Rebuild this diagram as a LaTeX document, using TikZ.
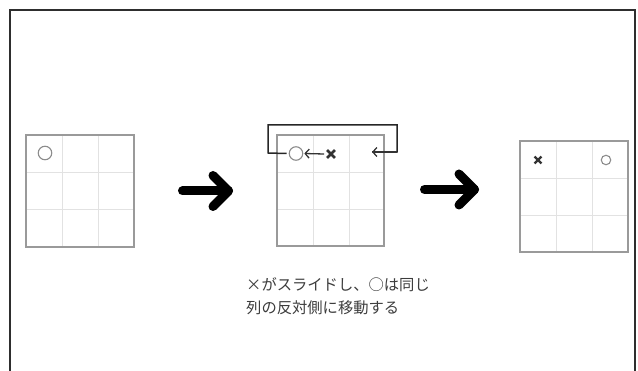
\documentclass[tikz,border=0pt]{standalone}
\usepackage{fontspec}
\newfontfamily\cjk{Noto Sans CJK JP}
\usetikzlibrary{arrows.meta}
\definecolor{framec}{HTML}{2E2E2E}
\definecolor{gridout}{HTML}{9A9A9A}
\definecolor{gridin}{HTML}{E2E2E2}
\definecolor{markc}{HTML}{333333}
\definecolor{circc}{HTML}{8C8C8C}
\definecolor{textc}{HTML}{3C3C3C}
\tikzset{
  frameline/.style={draw=framec, line width=1.8pt},
  outerbox/.style={draw=gridout, line width=1.4pt},
  innerline/.style={draw=gridin, line width=0.9pt},
  circmark/.style={circle, draw=circc, line width=1.1pt, inner sep=0pt},
  crossbox/.style={inner sep=0pt, minimum size=7.5pt},
  crossline/.style={draw=markc, line width=2.6pt},
  smallarrow/.style={draw=black!80, line width=1.3pt, -{Straight Barb[length=4pt,width=9pt,line width=1.3pt]}},
  bracket/.style={draw=black!85, line width=1.5pt},
  bigarrow/.style={draw=black, line width=9pt, line cap=round, line join=round},
  txt/.style={font=\cjk\fontsize{15.3pt}{18pt}\selectfont, text=textc, inner sep=0pt, anchor=west}
}
\begin{document}
\begin{tikzpicture}[x=1pt,y=-1pt]
\useasboundingbox (0,0) rectangle (638,371);
% outer frame
\draw[frameline] (10,373) -- (10,10) -- (635,10) -- (635,373);

% grid 1
\draw[innerline] (62,135) -- (62,247) (98,135) -- (98,247) (26,172) -- (134,172) (26,209) -- (134,209);
\draw[outerbox] (26,135) rectangle (134,247);
\node[circmark, minimum size=13.5pt] (o1) at (45,153) {};

% grid 2
\draw[innerline] (313,135) -- (313,246) (349,135) -- (349,246) (277,172) -- (384,172) (277,209) -- (384,209);
\draw[outerbox] (277,135) rectangle (384,246);
\node[circmark, minimum size=13.5pt] (o2) at (296,153.5) {};
\node[crossbox] (x2) at (331,154) {};
\draw[crossline] (x2.north west) -- (x2.south east) (x2.north east) -- (x2.south west);
\draw[smallarrow] ([xshift=-3pt]x2.west) -- ([xshift=1pt]o2.east);
\coordinate (bl) at (268,153);
\coordinate (tl) at (268,125);
\coordinate (tr) at (397,125);
\coordinate (br) at (397,152);
\coordinate (wr) at (372,152);
\draw[bracket] ([xshift=-2pt]o2.west) -- (bl) -- (tl) -- (tr) -- (br) -- (wr);
\draw[smallarrow] (br) -- (wr);

% grid 3
\draw[innerline] (556,141) -- (556,252) (592,141) -- (592,252) (520,178) -- (628,178) (520,215) -- (628,215);
\draw[outerbox] (520,141) rectangle (628,252);
\node[circmark, minimum size=9.5pt] (o3) at (606,160) {};
\node[crossbox, minimum size=6.5pt] (x3) at (538,160) {};
\draw[crossline, line width=2.4pt] (x3.north west) -- (x3.south east) (x3.north east) -- (x3.south west);

% big arrows
\coordinate (a1s) at (182.5,191);
\coordinate (a1e) at (228.5,191);
\draw[bigarrow] (a1s) -- (a1e);
\draw[bigarrow] (213,175.5) -- (a1e) -- (213,206.5);
\coordinate (a2s) at (424.5,189.5);
\coordinate (a2e) at (474.5,189.5);
\draw[bigarrow] (a2s) -- (a2e);
\draw[bigarrow] (459,174) -- (a2e) -- (459,205);

% caption
\node[txt] (t1) at (246,285) {×がスライドし、○は同じ};
\node[txt] (t2) at (246,308) {列の反対側に移動する};
\end{tikzpicture}
\end{document}
